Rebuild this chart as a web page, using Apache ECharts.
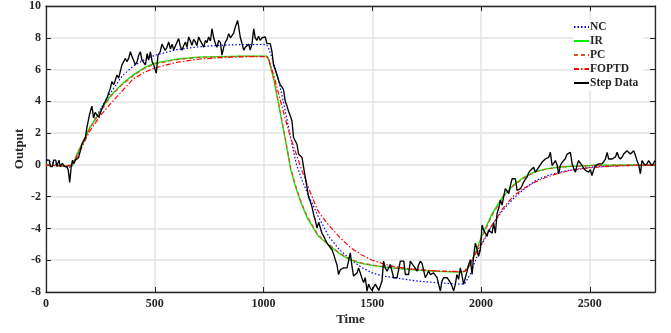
<!DOCTYPE html>
<html><head><meta charset="utf-8">
<script src="https://cdn.jsdelivr.net/npm/echarts@6/dist/echarts.min.js"></script>
<style>html,body{margin:0;padding:0;background:#fff}#c{width:671px;height:333px}</style>
</head><body><div id="c"></div>
<script>
const modelTime = [0,50,100,120,150,200,250,300,350,400,450,500,600,700,800,900,1000,1015,1025,1050,1075,1100,1125,1150,1175,1200,1250,1300,1350,1400,1450,1500,1550,1600,1700,1800,1900,1925,1950,1975,2000,2050,2100,2150,2200,2250,2300,2350,2400,2500,2600,2700,2800];
const ncValues = [0.35,0.0,-0.15,-0.1,0.8,2.3,3.5,4.6,5.6,6.2,6.6,6.9,7.25,7.43,7.53,7.57,7.58,7.55,7.3,6.3,5.0,3.4,1.7,0.1,-0.9,-1.7,-3.2,-4.5,-5.35,-5.95,-6.45,-6.8,-7.0,-7.1,-7.3,-7.42,-7.5,-7.48,-6.9,-6.0,-5.1,-3.8,-2.85,-2.1,-1.5,-1.0,-0.7,-0.5,-0.35,-0.15,-0.07,-0.03,-0.01];
const irValues = [0,-0.05,-0.1,-0.05,0.9,2.3,3.4,4.4,5.1,5.65,6.1,6.4,6.65,6.78,6.82,6.85,6.85,6.85,6.6,5.2,3.4,1.6,-0.3,-1.5,-2.5,-3.3,-4.45,-5.05,-5.6,-6.0,-6.2,-6.33,-6.42,-6.5,-6.62,-6.7,-6.75,-6.72,-6.3,-5.5,-4.6,-3.1,-2.0,-1.25,-0.75,-0.42,-0.25,-0.15,-0.1,-0.04,-0.02,0,0];
const pcValues = [0,-0.05,-0.1,-0.05,0.85,2.25,3.35,4.35,5.05,5.6,6.05,6.35,6.62,6.76,6.8,6.83,6.83,6.83,6.6,5.25,3.5,1.7,-0.2,-1.4,-2.4,-3.2,-4.4,-5.0,-5.55,-5.95,-6.17,-6.3,-6.4,-6.48,-6.6,-6.68,-6.73,-6.7,-6.3,-5.55,-4.7,-3.2,-2.05,-1.3,-0.8,-0.45,-0.27,-0.16,-0.1,-0.04,-0.02,0,0];
const foptdValues = [0,-0.05,-0.05,0,0.7,2.1,3.1,3.9,4.65,5.4,5.8,6.1,6.45,6.65,6.75,6.8,6.82,6.8,6.6,5.5,4.2,2.9,1.7,0.7,-0.3,-1.2,-2.9,-3.8,-4.55,-5.2,-5.65,-6.0,-6.22,-6.4,-6.58,-6.68,-6.72,-6.7,-6.2,-5.6,-5.0,-3.8,-2.75,-1.95,-1.45,-1.07,-0.78,-0.55,-0.38,-0.18,-0.08,-0.04,-0.02];
const stepTime = [0,15,20,30,35,45,50,60,65,75,85,95,102,109,116,122,127,135,150,158,165,181,188,200,211,219,226,234,242,250,265,280,296,303,311,318,326,334,342,349,357,365,372,380,388,396,403,411,419,426,434,441,449,457,465,472,480,488,495,507,515,525,533,541,548,556,564,572,580,587,595,602,610,617,625,633,641,648,656,664,671,679,687,694,702,710,717,725,733,740,748,756,763,771,779,786,794,802,809,817,825,832,840,848,855,863,870,881,887,893,900,909,916,924,932,939,947,955,962,970,977,985,993,1000,1008,1016,1023,1031,1039,1046,1054,1062,1070,1077,1085,1092,1100,1108,1115,1123,1131,1138,1146,1154,1161,1169,1177,1185,1192,1200,1207,1215,1223,1230,1238,1246,1254,1262,1269,1277,1284,1292,1300,1307,1315,1322,1330,1338,1345,1353,1361,1368,1376,1384,1391,1399,1406,1414,1422,1430,1437,1445,1452,1460,1468,1476,1483,1491,1499,1507,1514,1522,1530,1537,1545,1552,1560,1568,1575,1583,1591,1598,1606,1614,1621,1629,1637,1645,1652,1660,1667,1675,1682,1690,1698,1706,1713,1721,1729,1736,1744,1752,1759,1767,1775,1782,1790,1798,1805,1813,1821,1828,1836,1844,1851,1859,1866,1874,1882,1889,1897,1905,1912,1920,1928,1936,1943,1951,1959,1966,1974,1982,1989,1997,2005,2012,2020,2028,2035,2043,2051,2058,2066,2074,2082,2089,2097,2104,2112,2120,2128,2135,2143,2150,2158,2166,2173,2181,2189,2196,2204,2212,2219,2227,2235,2242,2250,2258,2265,2273,2280,2288,2296,2303,2311,2319,2327,2334,2342,2350,2357,2365,2373,2380,2388,2396,2403,2411,2419,2426,2434,2442,2449,2457,2465,2472,2480,2488,2495,2503,2510,2518,2526,2534,2541,2549,2557,2564,2572,2580,2587,2595,2603,2610,2618,2626,2633,2641,2649,2656,2664,2671,2679,2687,2694,2702,2710,2717,2725,2733,2740,2748,2756,2764,2771,2779,2786,2793,2800];
const stepValue = [0.3,0.3,-0.1,-0.1,0.3,0.3,-0.1,0.3,-0.1,0.1,-0.1,-0.1,-0.3,-1.1,-0.1,0.3,0.06,0.3,0.47,0.9,1.3,1.72,2.34,3.17,3.7,2.96,3.3,3.38,3.0,2.96,3.8,4.2,4.83,5.25,5.04,5.3,5.66,5.46,5.9,6.29,6.4,6.7,6.5,6.7,7.12,6.8,6.7,6.3,6.5,6.9,7.12,6.6,6.7,6.3,7.0,6.6,7.12,6.5,6.3,5.77,6.9,7.12,7.6,7.63,7.2,7.4,7.74,7.3,7.6,7.22,7.5,7.6,7.95,7.5,7.22,7.5,7.74,7.4,8.05,7.8,7.53,7.9,7.74,7.5,8.05,7.8,7.63,7.4,7.84,7.7,8.05,7.8,8.57,8.0,7.63,7.4,7.84,7.7,6.91,7.4,7.74,7.9,8.26,8.0,8.05,8.3,8.67,9.09,8.6,8.05,7.7,7.22,7.4,7.32,7.6,7.22,7.6,8.57,8.0,7.84,8.1,7.84,8.0,8.05,8.05,7.63,7.63,7.63,7.12,6.29,6.0,5.67,5.3,5.04,4.9,4.73,4.0,3.7,3.38,3.1,2.76,1.72,1.6,1.3,0.68,0.6,0.47,-0.2,-0.77,-1.4,-2.02,-2.3,-2.64,-3.1,-3.47,-3.98,-3.6,-4.0,-4.3,-4.5,-4.7,-4.92,-5.0,-5.2,-5.34,-5.6,-5.96,-6.3,-6.9,-6.6,-6.48,-6.48,-6.48,-6.48,-6.48,-5.54,-6.3,-7.0,-7.1,-6.8,-6.48,-6.8,-7.1,-7.41,-7.1,-7.95,-7.5,-7.75,-7.9,-8.0,-7.5,-7.6,-7.9,-8.0,-7.31,-6.06,-6.5,-6.69,-6.5,-6.27,-6.7,-7.1,-7.1,-7.1,-6.6,-6.06,-6.06,-6.06,-6.9,-6.9,-6.9,-6.06,-6.2,-6.27,-6.5,-6.69,-6.3,-6.06,-6.2,-6.27,-7.1,-6.9,-6.69,-6.9,-7.0,-6.8,-6.9,-7.1,-7.5,-7.93,-7.3,-7.1,-7.1,-7.1,-7.1,-7.4,-7.6,-7.93,-7.52,-6.9,-7.2,-6.48,-6.9,-7.52,-7.1,-6.69,-6.3,-5.96,-6.9,-5.75,-4.92,-5.3,-5.75,-5.34,-3.78,-4.1,-4.0,-4.5,-4.09,-4.2,-4.3,-3.67,-4.3,-3.05,-2.7,-2.22,-2.53,-2.0,-1.5,-1.6,-1.8,-1.3,-0.87,-0.9,-0.87,-1.6,-1.55,-1.5,-1.3,-1.08,-0.9,-0.77,-0.5,-0.35,-0.25,-0.15,-0.46,-0.3,-0.15,0.0,0.16,0.27,0.37,0.4,0.47,0.79,-0.04,0.1,0.27,0.0,-0.56,-0.04,0.16,0.27,0.4,0.68,0.79,0.79,0.06,-0.2,-0.46,0.0,0.27,0.1,-0.04,-0.2,-0.35,-0.4,-0.46,-0.3,-0.67,-0.3,-0.04,0.0,0.06,0.06,0.06,0.06,0.37,0.79,0.37,0.37,0.37,0.37,0.5,0.79,0.5,0.37,0.5,0.68,0.79,0.89,0.8,0.68,0.8,0.89,0.6,0.27,0.0,-0.56,0.27,0.1,-0.04,0.1,0.27,0.1,-0.04,0.1,0.27];
const xTicks = {min:0, max:2800, interval:500};
const yTicks = {min:-8, max:10, interval:2};
const seriesNames = ['NC','IR','PC','FOPTD','Step Data'];

const FONT = 'Liberation Serif';
const pair = (ts, vs) => ts.map((t,i)=>[t, vs[i]]);
const txt = {fontFamily: FONT, fontWeight:'bold', color:'#262626'};
const plain = v => String(v);

const chart = echarts.init(document.getElementById('c'), null, {renderer:'canvas'});
const axisLine = {show:true, onZero:false, lineStyle:{color:'#262626', width:1.3}};
const tick = {show:true, inside:true, length:5, lineStyle:{color:'#262626'}};
chart.setOption({
  animation:false,
  backgroundColor:'#fff',
  grid:{left:46, right:16, top:3, bottom:41, containLabel:false},
  xAxis:[{
    type:'value', min:xTicks.min, max:xTicks.max, interval:xTicks.interval, position:'bottom',
    name:'Time', nameLocation:'middle', nameGap:21, nameMoveOverlap:false, nameTextStyle:Object.assign({fontSize:13}, txt),
    axisLine:axisLine, axisTick:tick,
    axisLabel:Object.assign({fontSize:12, margin:6, showMaxLabel:false, formatter:plain}, txt),
    splitLine:{show:true, lineStyle:{color:'#e3e3e3', width:1.5}}
  },{
    type:'value', min:xTicks.min, max:xTicks.max, interval:xTicks.interval, position:'top',
    axisLine:axisLine, axisTick:tick,
    axisLabel:{show:false}, splitLine:{show:false}
  }],
  yAxis:[{
    type:'value', min:yTicks.min, max:yTicks.max, interval:yTicks.interval, position:'left',
    name:'Output', nameLocation:'middle', nameGap:20, nameMoveOverlap:false, nameTextStyle:Object.assign({fontSize:13}, txt),
    axisLine:axisLine, axisTick:tick,
    axisLabel:Object.assign({fontSize:12, margin:5, formatter:plain}, txt),
    splitLine:{show:true, lineStyle:{color:'#e3e3e3', width:1.5}}
  },{
    type:'value', min:yTicks.min, max:yTicks.max, interval:yTicks.interval, position:'right',
    axisLine:axisLine, axisTick:tick,
    axisLabel:{show:false}, splitLine:{show:false}
  }],
  legend:{
    orient:'vertical', left:573, top:19, itemWidth:15, itemHeight:8, itemGap:2,
    backgroundColor:'#fff', padding:[2,6,2,0],
    itemStyle:{opacity:0},
    textStyle:Object.assign({fontSize:11.5, padding:[0,0,0,-4]}, txt),
    data:seriesNames
  },
  series:[
    {name:seriesNames[0], type:'line', data:pair(modelTime,ncValues), showSymbol:false, symbol:'none', lineStyle:{color:'#0000ff', width:1.2, type:[1.5,2]}, itemStyle:{color:'#0000ff'}},
    {name:seriesNames[1], type:'line', data:pair(modelTime,irValues), showSymbol:false, symbol:'none', lineStyle:{color:'#00ee00', width:1.3}, itemStyle:{color:'#00ee00'}},
    {name:seriesNames[2], type:'line', data:pair(modelTime,pcValues), showSymbol:false, symbol:'none', lineStyle:{color:'#D95319', width:1.2, type:[4,3]}, itemStyle:{color:'#D95319'}},
    {name:seriesNames[3], type:'line', data:pair(modelTime,foptdValues), showSymbol:false, symbol:'none', lineStyle:{color:'#ff0000', width:1.2, type:[5,2,1.5,2]}, itemStyle:{color:'#ff0000'}},
    {name:seriesNames[4], type:'line', data:pair(stepTime,stepValue), showSymbol:false, symbol:'none', lineStyle:{color:'#000000', width:1.35}, itemStyle:{color:'#000000'}}
  ]
});
</script></body></html>
